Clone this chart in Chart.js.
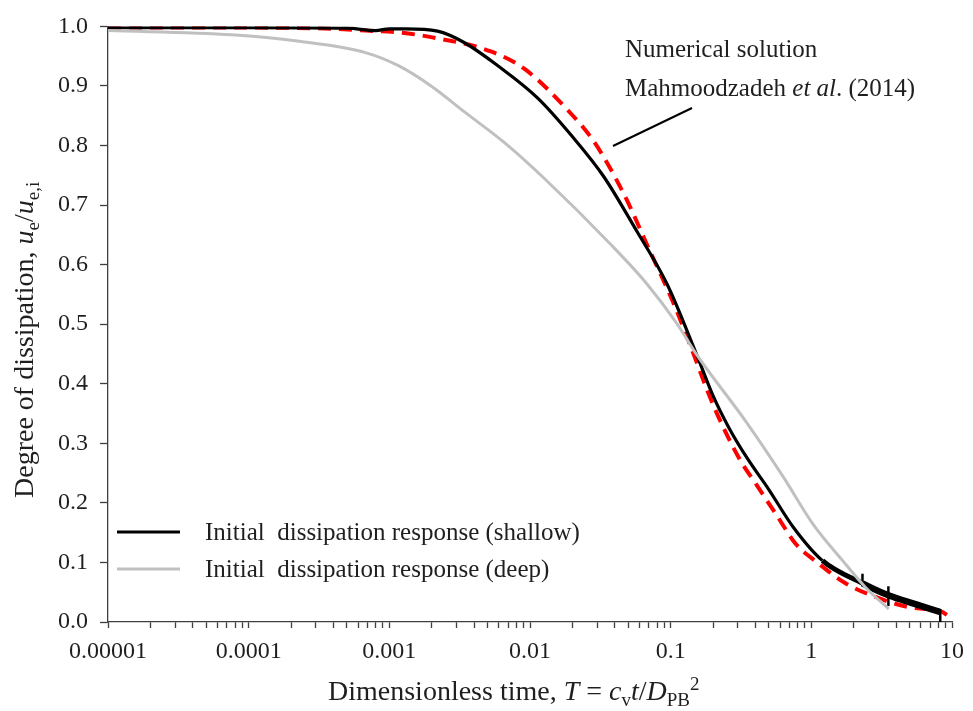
<!DOCTYPE html>
<html>
<head>
<meta charset="utf-8">
<script src="https://cdn.jsdelivr.net/npm/chart.js@4.4.1/dist/chart.umd.min.js"></script>
<style>
  body { margin: 0; background: #fff; }
  #wrap { width: 973px; height: 711px; }
</style>
</head>
<body>
<div id="wrap"><canvas id="chart" width="973" height="711"></canvas></div>
<script>
// Dissipation curves (T on a log axis, u_e/u_e,i linear)
const shallowT = [0.00001, 0.0001, 0.0005, 0.0008, 0.001, 0.0013, 0.0022, 0.0034, 0.0059, 0.0113, 0.02, 0.0334, 0.0575, 0.094, 0.153, 0.2, 0.261, 0.35, 0.5, 0.74, 1.2, 2.31, 3.53, 5.5, 8.2];
const shallowU = [0.998, 0.998, 0.997, 0.993, 0.996, 0.996, 0.992, 0.973, 0.934, 0.88, 0.815, 0.748, 0.656, 0.568, 0.449, 0.38, 0.325, 0.275, 0.222, 0.16, 0.103, 0.065, 0.045, 0.03, 0.017];

const deepT = [0.00001, 0.000076, 0.000228, 0.000676, 0.00116, 0.00198, 0.00344, 0.00665, 0.0126, 0.0371, 0.0676, 0.11, 0.153, 0.344, 0.63, 1.03, 1.67, 2.43, 3.55];
const deepU = [0.993, 0.986, 0.975, 0.956, 0.934, 0.9, 0.856, 0.804, 0.745, 0.635, 0.568, 0.502, 0.449, 0.336, 0.244, 0.164, 0.103, 0.058, 0.022];

const numericalT = [0.00001, 0.0001, 0.0004, 0.00068, 0.00116, 0.00198, 0.00526, 0.0091, 0.0193, 0.0286, 0.0466, 0.0711, 0.105, 0.136, 0.201, 0.308, 0.406, 0.561, 0.776, 1.13, 1.75, 2.86, 4.89, 8.5, 9.2];
const numericalU = [0.998, 0.998, 0.996, 0.993, 0.99, 0.982, 0.958, 0.929, 0.855, 0.806, 0.718, 0.623, 0.535, 0.468, 0.364, 0.274, 0.231, 0.181, 0.131, 0.098, 0.065, 0.042, 0.025, 0.017, 0.012];

// small vertical glitches on the shallow trace (last one is the drop at the end)
const markT = [2.31, 3.53, 8.25];
const markHigh = [0.081, 0.06, 0.022];
const markLow = [0.06, 0.027, 0.0];

const xTickLabels = ['0.00001', '0.0001', '0.001', '0.01', '0.1', '1', '10'];
const yTickLabels = ['0.0', '0.1', '0.2', '0.3', '0.4', '0.5', '0.6', '0.7', '0.8', '0.9', '1.0'];

const legendLabels = ['Initial  dissipation response (shallow)', 'Initial  dissipation response (deep)'];

const SERIF = '"Liberation Serif", "Times New Roman", serif';
const TEXT = '#1f1f1f';
const AXIS = '#404040';

function toPoints(xs, ys) {
    return xs.map((x, i) => ({ x: x, y: ys[i] }));
}

function font(size, italic) {
    return (italic ? 'italic ' : '') + size + 'px ' + SERIF;
}

// Draw a run of text pieces with their own font / vertical shift
function drawRich(ctx, parts, x, y) {
    let cx = x;
    parts.forEach(p => {
        ctx.font = font(p.size, p.italic);
        ctx.fillText(p.t, cx, y + (p.dy || 0));
        cx += ctx.measureText(p.t).width;
    });
}

const extras = {
    id: 'extras',
    afterDraw(chart) {
        const ctx = chart.ctx;
        ctx.save();
        ctx.fillStyle = TEXT;
        ctx.textAlign = 'left';
        ctx.textBaseline = 'alphabetic';

        // x axis title
        drawRich(ctx, [
            { t: 'Dimensionless time, ', size: 28 },
            { t: 'T', size: 28, italic: true },
            { t: ' = ', size: 28 },
            { t: 'c', size: 28, italic: true },
            { t: 'v', size: 19, dy: 6 },
            { t: 't', size: 28, italic: true },
            { t: '/', size: 28 },
            { t: 'D', size: 28, italic: true },
            { t: 'PB', size: 19, dy: 6 },
            { t: '2', size: 19, dy: -10 }
        ], 328, 700);

        // y axis title, rotated
        ctx.save();
        ctx.translate(33, 498);
        ctx.rotate(-Math.PI / 2);
        drawRich(ctx, [
            { t: 'Degree of dissipation, ', size: 28 },
            { t: 'u', size: 28, italic: true },
            { t: 'e', size: 19, dy: 6 },
            { t: '/', size: 28 },
            { t: 'u', size: 28, italic: true },
            { t: 'e,i', size: 19, dy: 6 }
        ], 0, 0);
        ctx.restore();

        // annotation for the numerical curve
        drawRich(ctx, [{ t: 'Numerical solution', size: 25 }], 625, 57);
        drawRich(ctx, [
            { t: 'Mahmoodzadeh ', size: 25 },
            { t: 'et al', size: 25, italic: true },
            { t: '. (2014)', size: 25 }
        ], 625, 96);
        ctx.strokeStyle = '#000';
        ctx.lineWidth = 2;
        ctx.beginPath();
        ctx.moveTo(692, 108);
        ctx.lineTo(613, 146);
        ctx.stroke();

        // legend
        const legendColors = ['#000000', '#c0c0c0'];
        const legendY = [532, 569];
        legendLabels.forEach((label, i) => {
            ctx.strokeStyle = legendColors[i];
            ctx.lineWidth = 3;
            ctx.beginPath();
            ctx.moveTo(117, legendY[i]);
            ctx.lineTo(180, legendY[i]);
            ctx.stroke();
            ctx.fillStyle = TEXT;
            ctx.textBaseline = 'middle';
            ctx.font = font(25);
            ctx.fillText(label, 205, legendY[i] + 1);
        });
        ctx.restore();
    }
};

const markSets = markT.map((t, i) => ({
    data: [{ x: t, y: markHigh[i] }, { x: t, y: markLow[i] }],
    borderColor: '#000',
    borderWidth: 2.5,
    pointRadius: 0,
    showLine: true,
    order: 1
}));

new Chart(document.getElementById('chart'), {
    type: 'scatter',
    data: {
        datasets: [
            {
                label: 'deep',
                data: toPoints(deepT, deepU),
                borderColor: '#c0c0c0',
                borderWidth: 3,
                order: 0
            },
            {
                label: 'shallow',
                data: toPoints(shallowT, shallowU),
                borderColor: '#000',
                borderWidth: 3.2,
                // the measured trace gets noisier (thicker) at late times
                segment: {
                    borderWidth: c => c.p0.parsed.x >= 2.3 ? 6.5 : (c.p0.parsed.x >= 1 ? 5 : 3.2)
                },
                order: 1
            },
            {
                label: 'numerical',
                data: toPoints(numericalT, numericalU),
                borderColor: '#ff0000',
                borderWidth: 4,
                borderDash: [13, 8],
                order: 2
            },
            ...markSets
        ]
    },
    options: {
        responsive: false,
        animation: false,
        devicePixelRatio: 1,
        layout: { padding: { left: 0, top: 20, right: 16, bottom: 0 } },
        elements: {
            line: { cubicInterpolationMode: 'monotone', fill: false },
            point: { radius: 0, hoverRadius: 0 }
        },
        datasets: { scatter: { showLine: true, pointRadius: 0 } },
        plugins: {
            legend: { display: false },
            tooltip: { enabled: false }
        },
        scales: {
            x: {
                type: 'logarithmic',
                min: 0.00001,
                max: 10,
                afterFit: scale => { scale.height = 89; },
                afterBuildTicks: scale => {
                    const ticks = [];
                    for (let e = -5; e <= 0; e++) {
                        for (let m = 1; m <= 9; m++) ticks.push({ value: m * Math.pow(10, e) });
                    }
                    ticks.push({ value: 10 });
                    scale.ticks = ticks;
                },
                grid: { display: true, drawOnChartArea: false, drawTicks: true, tickLength: 6, tickColor: AXIS, tickWidth: 1.3 },
                border: { display: true, color: AXIS, width: 1.3 },
                ticks: {
                    autoSkip: false,
                    maxRotation: 0,
                    padding: 9,
                    color: TEXT,
                    font: { family: SERIF, size: 24 },
                    callback: value => {
                        const lg = Math.log10(value);
                        if (Math.abs(lg - Math.round(lg)) > 1e-6) return '';
                        return xTickLabels[Math.round(lg) + 5];
                    }
                }
            },
            y: {
                min: 0,
                max: 1,
                afterFit: scale => { scale.width = 108; },
                grid: { display: true, drawOnChartArea: false, drawTicks: true, tickLength: 8, tickColor: AXIS, tickWidth: 1.3 },
                border: { display: true, color: AXIS, width: 1.3 },
                ticks: {
                    stepSize: 0.1,
                    padding: 12,
                    color: TEXT,
                    font: { family: SERIF, size: 24 },
                    callback: (value) => yTickLabels[Math.round(value * 10)]
                }
            }
        }
    },
    plugins: [extras]
});
</script>
</body>
</html>
